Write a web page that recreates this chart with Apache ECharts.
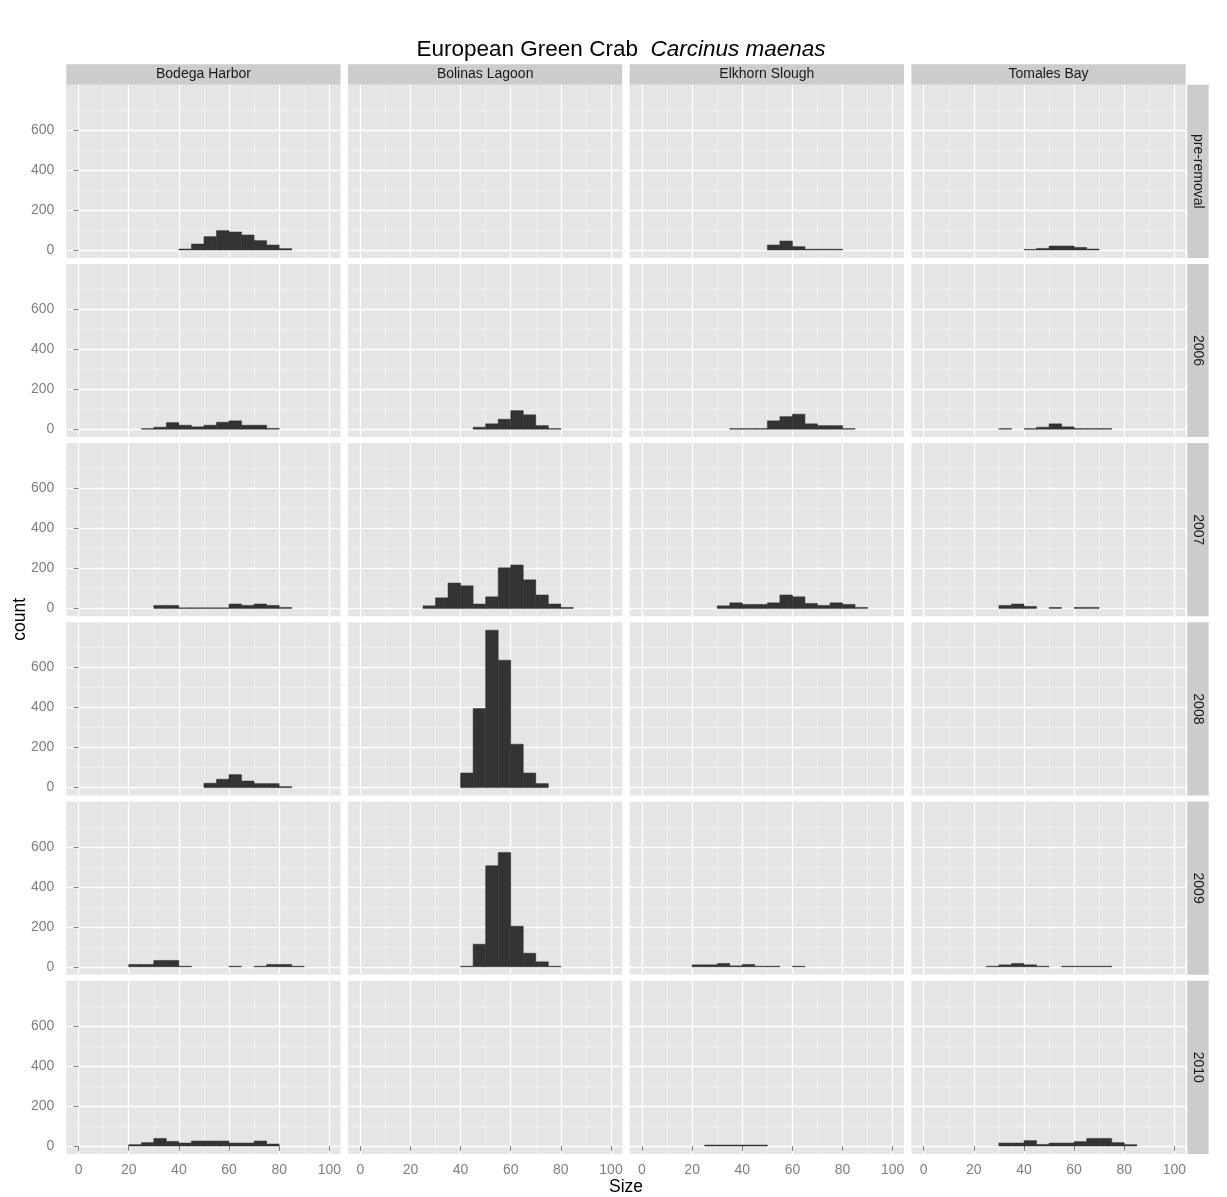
<!DOCTYPE html>
<html><head><meta charset="utf-8">
<script src="https://cdn.jsdelivr.net/npm/echarts@6/dist/echarts.min.js"></script>
<style>html,body{margin:0;padding:0;background:#fff}#chart{width:1227px;height:1197px}</style>
</head><body><div id="chart"></div>
<script>
// ---------- data ----------
const sites = ['Bodega Harbor', 'Bolinas Lagoon', 'Elkhorn Slough', 'Tomales Bay'];
const periods = ['pre-removal', '2006', '2007', '2008', '2009', '2010'];
const binWidth = 5;
const xTicks = [0, 20, 40, 60, 80, 100];
const xMinor = [10, 30, 50, 70, 90];
const yTicks = [0, 200, 400, 600];
const yMinor = [100, 300, 500, 700];

// first bin start (mm) for each period, and counts per 5-mm bin
const bodegaStarts = [40, 25, 30, 50, 20, 20];
const bodegaCounts = [
  [5, 30, 67, 97, 90, 75, 47, 25, 7],
  [3, 10, 33, 20, 12, 20, 35, 42, 20, 20, 4],
  [15, 15, 3, 3, 3, 3, 22, 15, 22, 15, 5],
  [22, 42, 65, 33, 20, 20, 5],
  [12, 12, 32, 32, 3, 0, 0, 0, 3, 0, 3, 12, 12, 3],
  [7, 17, 38, 23, 15, 25, 25, 25, 15, 15, 25, 10]
];
const bolinasStarts = [0, 45, 25, 40, 40, 0];
const bolinasCounts = [
  [],
  [10, 27, 50, 93, 72, 18, 3],
  [13, 53, 127, 113, 22, 58, 203, 217, 143, 67, 22, 5],
  [73, 395, 787, 637, 217, 73, 20],
  [3, 113, 505, 572, 203, 68, 25, 3],
  []
];
const elkhornStarts = [50, 35, 30, 0, 20, 25];
const elkhornCounts = [
  [25, 45, 17, 4, 4, 4],
  [3, 3, 3, 42, 63, 75, 27, 18, 18, 3],
  [13, 28, 20, 20, 28, 67, 58, 25, 15, 28, 20, 5],
  [],
  [10, 10, 17, 5, 12, 3, 3, 0, 3],
  [5, 5, 5, 5, 5]
];
const tomalesStarts = [40, 30, 30, 0, 25, 30];
const tomalesCounts = [
  [3, 8, 20, 20, 13, 5],
  [3, 0, 3, 10, 27, 12, 3, 3, 3],
  [15, 22, 10, 0, 5, 0, 5, 5],
  [],
  [3, 10, 17, 10, 3, 0, 3, 3, 3, 3],
  [15, 15, 27, 8, 15, 15, 22, 38, 38, 17, 7]
];
const allStarts = [bodegaStarts, bolinasStarts, elkhornStarts, tomalesStarts];
const allCounts = [bodegaCounts, bolinasCounts, elkhornCounts, tomalesCounts];

// ---------- layout ----------
const FONT = 'Liberation Sans, Arial, Helvetica, sans-serif';
const colLeft0 = 66.3, colStep = 281.7, panelW = 274.3;
const rowTop0 = 84.7, rowStep = 179.2, panelH = 173.2;
const xMin = -4.9, xMax = 104.5, yMin = -39.4, yMax = 826.4;
const stripH = 20.5, stripW = 21.5;
const labelGrey = '#7F7F7F';

const grids = [], xAxes = [], yAxes = [], series = [], graphics = [];

for (let r = 0; r < periods.length; r++) {
  for (let c = 0; c < sites.length; c++) {
    const gi = grids.length;
    const left = colLeft0 + c * colStep, top = rowTop0 + r * rowStep;
    grids.push({
      left: left, top: top, width: panelW, height: panelH,
      show: true, backgroundColor: '#E5E5E5', borderWidth: 0,
      containLabel: false, outerBoundsMode: 'none'
    });
    const bottomRow = r === periods.length - 1, leftCol = c === 0;
    xAxes.push({
      type: 'value', gridIndex: gi, min: xMin, max: xMax, position: 'bottom',
      axisLine: { show: false },
      axisTick: { show: bottomRow, customValues: xTicks, length: 5, lineStyle: { color: labelGrey, width: 1 } },
      axisLabel: { show: bottomRow, customValues: xTicks, margin: 9, color: labelGrey, fontSize: 14, fontFamily: FONT },
      splitLine: { show: true, lineStyle: { color: '#FFFFFF', width: 1.3 } },
      z: 1
    });
    xAxes.push({
      type: 'value', gridIndex: gi, min: xMin, max: xMax, position: 'top',
      axisLine: { show: false },
      axisTick: { show: false, customValues: xMinor },
      axisLabel: { show: false, customValues: xMinor },
      splitLine: { show: true, lineStyle: { color: '#F2F2F2', width: 0.7 } },
      z: 0
    });
    yAxes.push({
      type: 'value', gridIndex: gi, min: yMin, max: yMax, position: 'left',
      axisLine: { show: false },
      axisTick: { show: leftCol, customValues: yTicks, length: 5, lineStyle: { color: labelGrey, width: 1 } },
      axisLabel: { show: leftCol, customValues: yTicks, margin: 12, color: labelGrey, fontSize: 14, fontFamily: FONT },
      splitLine: { show: true, lineStyle: { color: '#FFFFFF', width: 1.3 } },
      z: 1
    });
    yAxes.push({
      type: 'value', gridIndex: gi, min: yMin, max: yMax, position: 'right',
      axisLine: { show: false },
      axisTick: { show: false, customValues: yMinor },
      axisLabel: { show: false, customValues: yMinor },
      splitLine: { show: true, lineStyle: { color: '#F2F2F2', width: 0.7 } },
      z: 0
    });
    const start = allStarts[c][r], counts = allCounts[c][r];
    const data = [];
    counts.forEach((v, i) => {
      if (v > 0) data.push([start + i * binWidth, start + (i + 1) * binWidth, v]);
    });
    series.push({
      type: 'custom', xAxisIndex: 2 * gi, yAxisIndex: 2 * gi,
      encode: { x: [0, 1], y: 2 }, silent: true, animation: false, z: 5,
      renderItem: function (params, api) {
        const p0 = api.coord([api.value(0), api.value(2)]);
        const p1 = api.coord([api.value(1), 0]);
        return {
          type: 'rect',
          shape: { x: p0[0], y: p0[1], width: p1[0] - p0[0], height: p1[1] - p0[1] },
          style: { fill: '#333333', stroke: '#333333', lineWidth: 0.5 }
        };
      },
      data: data
    });
  }
}

// top strips
sites.forEach((s, c) => {
  const left = colLeft0 + c * colStep;
  graphics.push({ type: 'rect', shape: { x: left, y: rowTop0 - stripH, width: panelW, height: stripH }, style: { fill: '#CCCCCC' }, silent: true });
  graphics.push({ type: 'text', x: left + panelW / 2, y: rowTop0 - stripH / 2, style: { text: s, fill: '#1A1A1A', font: '14px ' + FONT, textAlign: 'center', textVerticalAlign: 'middle' }, silent: true });
});
// right strips
const stripX = colLeft0 + 3 * colStep + panelW + 1.5;
periods.forEach((p, r) => {
  const top = rowTop0 + r * rowStep;
  graphics.push({ type: 'rect', shape: { x: stripX, y: top, width: stripW, height: panelH }, style: { fill: '#CCCCCC' }, silent: true });
  graphics.push({ type: 'text', x: stripX + stripW / 2, y: top + panelH / 2, rotation: -Math.PI / 2, style: { text: p, fill: '#1A1A1A', font: '14px ' + FONT, textAlign: 'center', textVerticalAlign: 'middle' }, silent: true });
});
// axis titles
graphics.push({ type: 'text', x: colLeft0 + (3 * colStep + panelW) / 2, y: 1187, style: { text: 'Size', fill: '#000000', font: '17.5px ' + FONT, textAlign: 'center', textVerticalAlign: 'middle' }, silent: true });
graphics.push({ type: 'text', x: 20, y: rowTop0 + (5 * rowStep + panelH) / 2, rotation: Math.PI / 2, style: { text: 'count', fill: '#000000', font: '17.5px ' + FONT, textAlign: 'center', textVerticalAlign: 'middle' }, silent: true });

const chart = echarts.init(document.getElementById('chart'), null, { renderer: 'canvas' });
chart.setOption({
  animation: false,
  backgroundColor: '#FFFFFF',
  title: {
    text: '{a|European Green Crab}  {b|Carcinus maenas}',
    left: 616, top: 33, textAlign: 'center',
    textStyle: {
      fontFamily: FONT, fontSize: 22.5, fontWeight: 'normal', color: '#000',
      rich: {
        a: { fontFamily: FONT, fontSize: 22.5, color: '#000' },
        b: { fontFamily: FONT, fontSize: 22.5, fontStyle: 'italic', color: '#000' }
      }
    }
  },
  grid: grids, xAxis: xAxes, yAxis: yAxes, series: series,
  graphic: { elements: graphics }
});
</script></body></html>
